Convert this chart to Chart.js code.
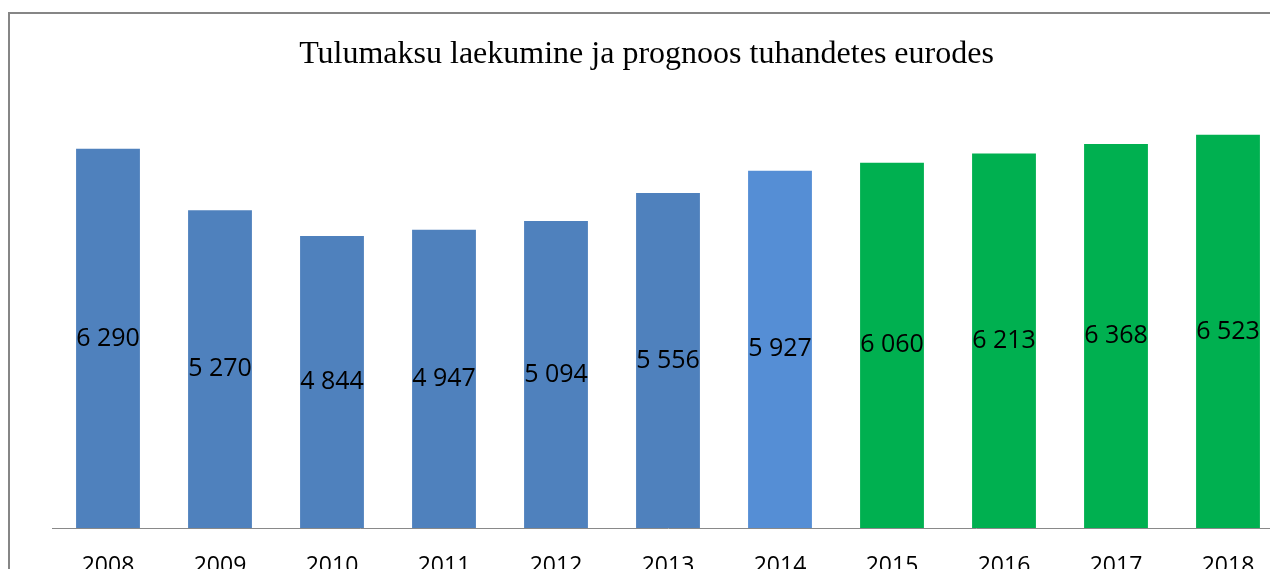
<!DOCTYPE html>
<html lang="et">
<head>
<meta charset="utf-8">
<title>Tulumaksu laekumine ja prognoos</title>
<script src="https://cdn.jsdelivr.net/npm/chart.js@4.4.1/dist/chart.umd.min.js"></script>
<style>
    html, body {
        margin: 0;
        padding: 0;
        background: #ffffff;
        overflow: hidden;
    }
    .frame {
        position: absolute;
        left: 8px;
        top: 12px;
        width: 1400px;
        height: 700px;
        border: 2px solid #868686;
    }
    .chart-container {
        position: absolute;
        left: 0;
        top: 0;
        width: 1300px;
        height: 600px;
    }
</style>
</head>
<body>
<div class="frame"></div>
<div class="chart-container">
    <canvas id="taxChart"></canvas>
</div>
<script>
// Years on the x axis
const years = ['2008', '2009', '2010', '2011', '2012', '2013', '2014', '2015', '2016', '2017', '2018'];

// Income tax receipts (2008-2014) and forecast (2015-2018), thousand euros
const receipts = [6290, 5270, 4844, 4947, 5094, 5556, 5927, 6060, 6213, 6368, 6523];

const chartTitle = 'Tulumaksu laekumine ja prognoos tuhandetes eurodes';

// Bar colours: actuals, latest estimate, forecast
const barColors = [
    '#4F81BD', '#4F81BD', '#4F81BD', '#4F81BD', '#4F81BD', '#4F81BD',
    '#558ED5',
    '#00B050', '#00B050', '#00B050', '#00B050'
];

/**
 * Formats a number with a space as thousands separator (6 290)
 */
function formatValue(v) {
    return String(v).replace(/\B(?=(\d{3})+(?!\d))/g, ' ');
}

// Draws the value in the middle of each bar
const barValueLabels = {
    id: 'barValueLabels',
    afterDatasetsDraw(chart) {
        const ctx = chart.ctx;
        const meta = chart.getDatasetMeta(0);
        ctx.save();
        ctx.font = '25px "Open Sans"';
        ctx.fillStyle = '#000000';
        ctx.textAlign = 'center';
        ctx.textBaseline = 'middle';
        meta.data.forEach((bar, i) => {
            const mid = (bar.y + bar.base) / 2;
            ctx.fillText(formatValue(chart.data.datasets[0].data[i]), bar.x, mid);
        });
        ctx.restore();
    }
};

// Title centred over the chart frame
const frameTitle = {
    id: 'frameTitle',
    afterDraw(chart) {
        const ctx = chart.ctx;
        ctx.save();
        ctx.font = '32px "Liberation Serif"';
        ctx.fillStyle = '#000000';
        ctx.textAlign = 'center';
        ctx.textBaseline = 'alphabetic';
        ctx.fillText(chartTitle, 646.5, 63);
        ctx.restore();
    }
};

const ctx = document.getElementById('taxChart').getContext('2d');

new Chart(ctx, {
    type: 'bar',
    data: {
        labels: years,
        datasets: [{
            data: receipts,
            backgroundColor: barColors,
            borderWidth: 0,
            barPercentage: 0.57,
            categoryPercentage: 1
        }]
    },
    options: {
        responsive: true,
        maintainAspectRatio: false,
        animation: false,
        layout: {
            padding: { left: 52, right: 16, top: 106, bottom: 22 }
        },
        scales: {
            x: {
                grid: { display: false, drawTicks: false },
                border: { display: true, color: '#898989', width: 1 },
                ticks: {
                    color: '#000000',
                    font: { family: '"Open Sans"', size: 23 },
                    padding: 25,
                    maxRotation: 0,
                    autoSkip: false
                },
                afterFit(scale) {
                    scale.height = 50;
                }
            },
            y: {
                display: false,
                min: 0,
                max: 7000
            }
        },
        plugins: {
            legend: { display: false },
            title: { display: false },
            tooltip: { enabled: false }
        }
    },
    plugins: [barValueLabels, frameTitle]
});
</script>
</body>
</html>
